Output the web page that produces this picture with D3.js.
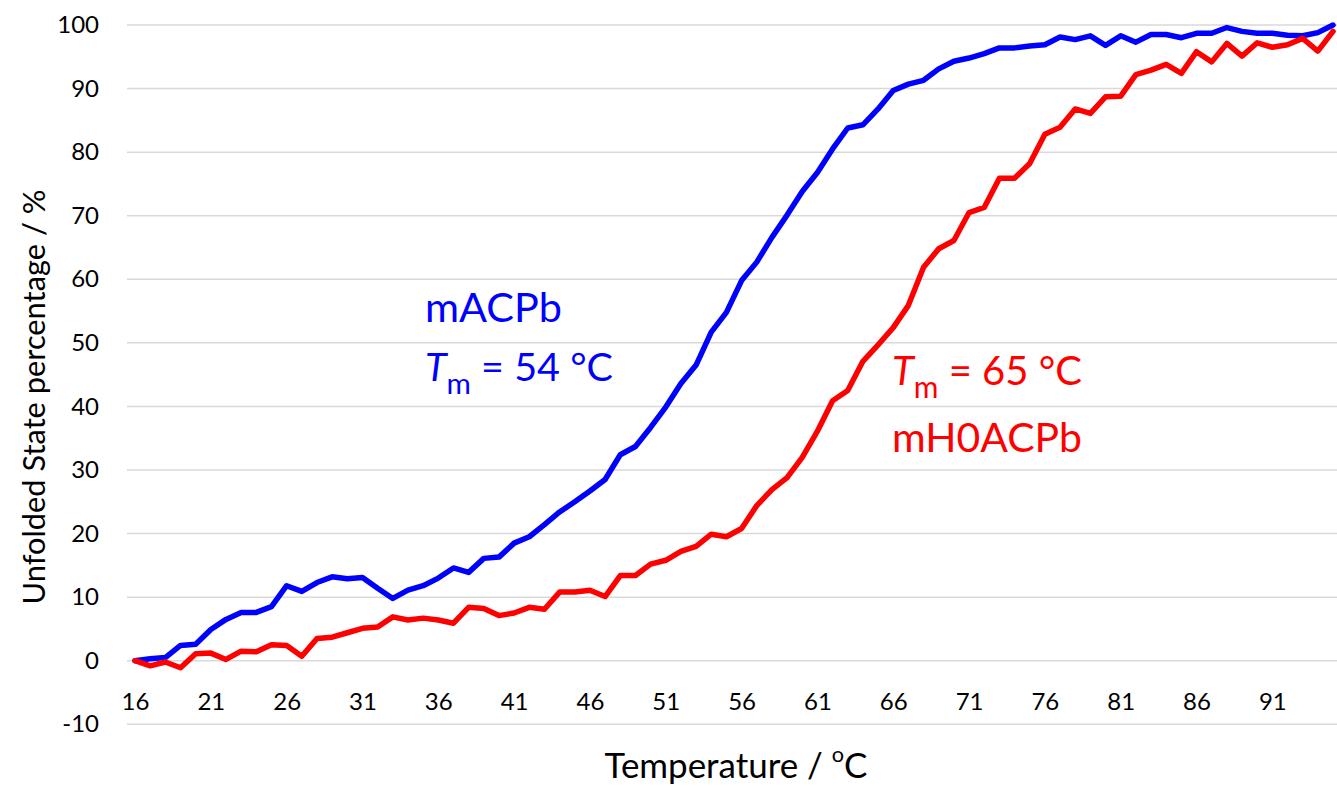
<!DOCTYPE html>
<html>
<head>
<meta charset="utf-8">
<script src="https://cdn.jsdelivr.net/npm/d3@7"></script>
<style>
  html, body { margin: 0; padding: 0; background: #fff; }
  svg { display: block; font-family: Lato, "Open Sans", sans-serif; }
</style>
</head>
<body>
<svg id="chart" width="1337" height="786"></svg>
<script>
// ---- data ----
const temperatures = d3.range(16, 96); // 16 .. 95 °C
const mACPb = [
  0, 0.3, 0.5, 2.4, 2.6, 4.9, 6.5, 7.6, 7.6, 8.5,
  11.8, 10.9, 12.3, 13.2, 12.9, 13.1, 11.4, 9.8, 11.1, 11.8,
  13.0, 14.6, 13.9, 16.1, 16.3, 18.5, 19.5, 21.4, 23.4, 25.0,
  26.7, 28.5, 32.4, 33.7, 36.7, 39.9, 43.6, 46.5, 51.7, 54.8,
  59.8, 62.7, 66.6, 70.1, 73.8, 76.8, 80.5, 83.8, 84.3, 86.8,
  89.7, 90.7, 91.3, 93.1, 94.3, 94.8, 95.5, 96.4, 96.4, 96.7,
  96.9, 98.1, 97.7, 98.3, 96.8, 98.3, 97.3, 98.5, 98.5, 98.0,
  98.7, 98.7, 99.6, 99.0, 98.7, 98.7, 98.4, 98.3, 98.8, 100.0
];
const mH0ACPb = [
  0, -0.8, -0.2, -1.1, 1.1, 1.2, 0.2, 1.5, 1.4, 2.5,
  2.4, 0.7, 3.5, 3.7, 4.4, 5.1, 5.3, 6.9, 6.4, 6.7,
  6.4, 5.9, 8.4, 8.2, 7.1, 7.5, 8.4, 8.1, 10.8, 10.8,
  11.1, 10.1, 13.4, 13.4, 15.2, 15.8, 17.2, 18.0, 19.9, 19.5,
  20.8, 24.4, 26.9, 28.8, 32.0, 36.1, 40.9, 42.5, 47.1, 49.7,
  52.4, 55.9, 61.9, 64.8, 66.1, 70.5, 71.3, 75.9, 75.9, 78.2,
  82.8, 83.9, 86.8, 86.1, 88.7, 88.8, 92.2, 92.9, 93.8, 92.4,
  95.8, 94.2, 97.1, 95.1, 97.2, 96.5, 96.9, 97.9, 95.9, 99.0
];
const xTickLabels = [16, 21, 26, 31, 36, 41, 46, 51, 56, 61, 66, 71, 76, 81, 86, 91];
const yTickLabels = [-10, 0, 10, 20, 30, 40, 50, 60, 70, 80, 90, 100];
const seriesNames = ["mACPb", "mH0ACPb"];
const tmValues = [54, 65];

// ---- layout ----
const svg = d3.select("#chart");
const x = d3.scaleLinear().domain([16, 95]).range([135, 1333]);
const y = d3.scaleLinear().domain([-10, 100]).range([724.3, 25]);
const gridLeft = 127, gridRight = 1337;

// gridlines
svg.append("g").selectAll("line").data(yTickLabels).join("line")
  .attr("x1", gridLeft).attr("x2", gridRight)
  .attr("y1", d => y(d)).attr("y2", d => y(d))
  .attr("stroke", "#d9d9d9").attr("stroke-width", 1.5);

// y axis labels
const yAxis = d3.axisLeft(y).tickValues(yTickLabels).tickSize(0).tickPadding(0)
  .tickFormat(d => String(d));
const gy = svg.append("g").attr("transform", "translate(99,0)").call(yAxis);
gy.select(".domain").remove();
gy.selectAll("text").attr("font-size", 24).attr("fill", "#000")
  .attr("font-family", "Lato, sans-serif");

// x axis labels (zero gridline acts as axis)
const xAxis = d3.axisBottom(x).tickValues(xTickLabels).tickSize(0).tickPadding(0)
  .tickFormat(d => String(d));
const gx = svg.append("g").attr("transform", "translate(0,702)").call(xAxis);
gx.select(".domain").remove();
gx.selectAll("text").attr("font-size", 24).attr("fill", "#000")
  .attr("dy", "0.35em").attr("y", 0)
  .attr("font-family", "Lato, sans-serif");

// lines
const line = d3.line().x((d, i) => x(temperatures[i])).y(d => y(d));
svg.append("path").datum(mACPb).attr("d", line)
  .attr("fill", "none").attr("stroke", "#0000ff").attr("stroke-width", 5.5)
  .attr("stroke-linejoin", "round").attr("stroke-linecap", "round");
svg.append("path").datum(mH0ACPb).attr("d", line)
  .attr("fill", "none").attr("stroke", "#ff0000").attr("stroke-width", 5.5)
  .attr("stroke-linejoin", "round").attr("stroke-linecap", "round");

function fit(sel, target) {
  const fs = parseFloat(sel.attr("font-size"));
  const w = sel.node().getComputedTextLength();
  sel.attr("font-size", fs * target / w);
}

// axis titles
const xt = svg.append("text").attr("x", 736).attr("y", 778)
  .attr("text-anchor", "middle").attr("font-size", 29).attr("fill", "#000");
xt.append("tspan").text("Temperature / ");
xt.append("tspan").attr("font-size", "0.62em").attr("dy", "-0.75em").text("o");
xt.append("tspan").attr("dy", "0.47em").text("C");
fit(xt, 263);

const yt = svg.append("text")
  .attr("transform", "translate(45,397) rotate(-90)")
  .attr("text-anchor", "middle").attr("font-size", 29).attr("fill", "#000")
  .text("Unfolded State percentage / %");
fit(yt, 415);

// annotations
function tmLabel(xp, yp, val, color, targetW) {
  const t = svg.append("text").attr("x", xp).attr("y", yp)
    .attr("font-size", 36).attr("fill", color);
  t.append("tspan").attr("font-style", "italic").text("T");
  t.append("tspan").attr("font-size", "0.75em").attr("dy", "0.45em").text("m");
  t.append("tspan").attr("dy", "-0.34em").text(" = " + val + " \u00B0C");
  fit(t, targetW);
  return t;
}
const a1 = svg.append("text").attr("x", 425).attr("y", 322)
  .attr("font-size", 36).attr("fill", "#0000ff").text(seriesNames[0]);
fit(a1, 137);
tmLabel(425, 381, tmValues[0], "#0000ff", 188);
tmLabel(892, 385, tmValues[1], "#ff0000", 190);
const a2 = svg.append("text").attr("x", 892).attr("y", 452)
  .attr("font-size", 36).attr("fill", "#ff0000").text(seriesNames[1]);
fit(a2, 190);
</script>
</body>
</html>
